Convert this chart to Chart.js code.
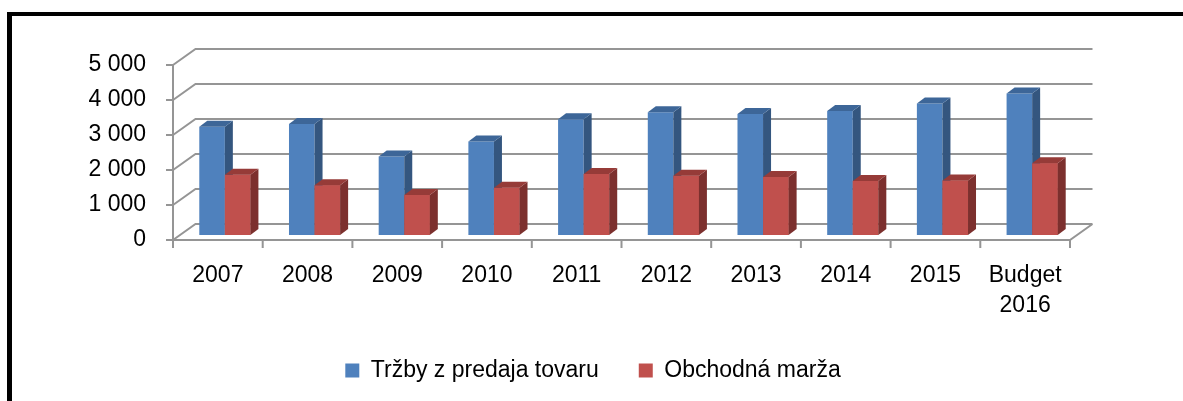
<!DOCTYPE html>
<html>
<head>
<meta charset="utf-8">
<script src="https://cdn.jsdelivr.net/npm/chart.js@4/dist/chart.umd.min.js"></script>
<style>
  html, body { margin: 0; padding: 0; background: #fff; }
  body { width: 1183px; height: 401px; overflow: hidden; position: relative; }
  #frame { position: absolute; left: 7px; top: 12px; width: 1400px; height: 600px;
           border-left: 5px solid #000; border-top: 4px solid #000; }
  #c { position: absolute; left: 0; top: 0; }
</style>
</head>
<body>
<div id="frame"></div>
<canvas id="c" width="1183" height="401"></canvas>
<script>
// ---- data ----
const categories = ['2007', '2008', '2009', '2010', '2011', '2012', '2013', '2014', '2015', ['Budget', '2016']];
const trzby = [3090, 3170, 2240, 2670, 3310, 3510, 3460, 3540, 3760, 4040];
const marza = [1720, 1420, 1140, 1350, 1740, 1690, 1660, 1540, 1560, 2050];
const yTickLabels = ['0', '1 000', '2 000', '3 000', '4 000', '5 000'];
const seriesNames = ['Tržby z predaja tovaru', 'Obchodná marža'];

// ---- styles ----
const BLUE = { front: '#4F81BD', top: '#3D6698', side: '#34567F' };
const RED = { front: '#C0504D', top: '#963B38', side: '#7C302E' };
const GRID = '#959595';
const WALL = { dx: 22.5, dy: -16 };   // back-wall offset
const BARSHIFT = { dx: 7, dy: -5 };   // bars sit slightly behind the front plane
const DEPTH = { dx: 8, dy: -6 };      // bar depth

function faces(ctx, el, c) {
  const p = el.getProps(['x', 'y', 'base', 'width'], true);
  const L = p.x - p.width / 2, R = p.x + p.width / 2, T = p.y, B = p.base;
  ctx.fillStyle = c.side;
  ctx.beginPath();
  ctx.moveTo(R, T); ctx.lineTo(R + DEPTH.dx, T + DEPTH.dy);
  ctx.lineTo(R + DEPTH.dx, B + DEPTH.dy); ctx.lineTo(R, B); ctx.closePath(); ctx.fill();
  ctx.fillStyle = c.top;
  ctx.beginPath();
  ctx.moveTo(L, T); ctx.lineTo(L + DEPTH.dx, T + DEPTH.dy);
  ctx.lineTo(R + DEPTH.dx, T + DEPTH.dy); ctx.lineTo(R, T); ctx.closePath(); ctx.fill();
}

const threeD = {
  id: 'threeD',
  beforeDatasetsDraw(chart) {
    const { ctx, chartArea: a, scales: { x, y } } = chart;
    const b = y.getPixelForValue(0);
    ctx.save();
    ctx.strokeStyle = GRID;
    ctx.lineWidth = 2;
    ctx.beginPath();
    y.ticks.forEach(t => {
      const py = y.getPixelForValue(t.value);
      ctx.moveTo(a.left, py);
      ctx.lineTo(a.left + WALL.dx, py + WALL.dy);
      ctx.lineTo(a.right + WALL.dx, py + WALL.dy);
      ctx.moveTo(a.left - 7, py);
      ctx.lineTo(a.left, py);
    });
    ctx.moveTo(a.left, y.getPixelForValue(y.max));
    ctx.lineTo(a.left, b + 8);
    ctx.moveTo(a.left, b);
    ctx.lineTo(a.right, b);
    ctx.lineTo(a.right + WALL.dx, b + WALL.dy);
    const n = x.ticks.length;
    for (let i = 1; i <= n; i++) {
      const px = (x.getPixelForValue(i - 1) + (i < n ? x.getPixelForValue(i) : 2 * a.right - x.getPixelForValue(n - 1))) / 2;
      ctx.moveTo(px, b);
      ctx.lineTo(px, b + 8);
    }
    ctx.stroke();
    ctx.restore();
    ctx.save();
    ctx.translate(BARSHIFT.dx, BARSHIFT.dy);
  },
  afterDatasetsDraw(chart) {
    const { ctx } = chart;
    const m0 = chart.getDatasetMeta(0), m1 = chart.getDatasetMeta(1);
    m0.data.forEach((bar, i) => {
      faces(ctx, bar, BLUE);
      m1.data[i].draw(ctx);
      faces(ctx, m1.data[i], RED);
    });
    ctx.restore();
  }
};

Chart.defaults.font.family = "'Liberation Sans', Arial, sans-serif";
Chart.defaults.font.size = 23;
Chart.defaults.color = '#000';

new Chart(document.getElementById('c'), {
  type: 'bar',
  data: {
    labels: categories,
    datasets: [
      { label: seriesNames[0], data: trzby, backgroundColor: BLUE.front, borderWidth: 0, clip: false },
      { label: seriesNames[1], data: marza, backgroundColor: RED.front, borderWidth: 0, clip: false }
    ]
  },
  options: {
    responsive: false,
    animation: false,
    devicePixelRatio: 1,
    categoryPercentage: 0.57,
    barPercentage: 1,
    layout: { padding: { left: 12, right: 9, top: 65, bottom: 9 } },
    plugins: {
      tooltip: { enabled: false },
      legend: {
        position: 'bottom',
        labels: { boxWidth: 14, boxHeight: 14, padding: 40, font: { size: 23 }, color: '#000' }
      }
    },
    scales: {
      x: {
        grid: { display: false, drawTicks: false },
        border: { display: false },
        ticks: { padding: 20, maxRotation: 0, autoSkip: false, font: { size: 23, lineHeight: 1.33 } },
        afterFit(s) { s.height = 79; }
      },
      y: {
        min: 0, max: 5000,
        grid: { display: false, drawTicks: false },
        border: { display: false },
        ticks: { stepSize: 1000, padding: 27, font: { size: 23 }, callback: (v, i) => yTickLabels[i] },
        afterFit(s) { s.width = 161; }
      },
      y2: {
        position: 'right',
        min: 0, max: 5000,
        grid: { display: false, drawTicks: false },
        border: { display: false },
        ticks: { display: false },
        afterFit(s) { s.width = 104; }
      }
    }
  },
  plugins: [threeD]
});
</script>
</body>
</html>
